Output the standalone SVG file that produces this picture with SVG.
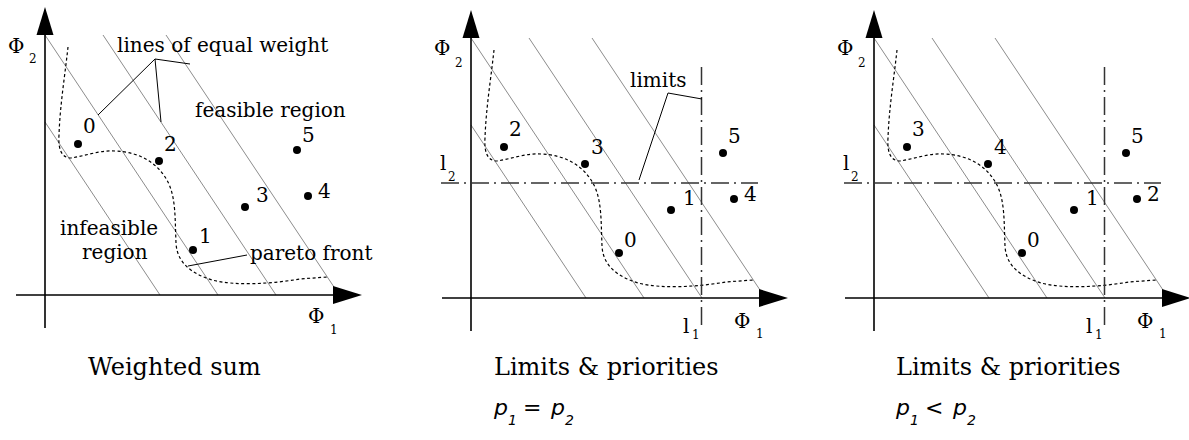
<svg xmlns="http://www.w3.org/2000/svg" width="1189" height="440" viewBox="0 0 1189 440">
<style>
.ax{stroke:#000;stroke-width:1.6;fill:none}
.arr{fill:#000;stroke:none}
.wl{stroke:#8c8c8c;stroke-width:1;fill:none}
.pf{stroke:#000;stroke-width:1.2;stroke-dasharray:3,2.5;fill:none}
.ld{stroke:#000;stroke-width:1;fill:none}
.lim{stroke:#333;stroke-width:1.5;stroke-dasharray:18,5,2,5;fill:none}
.t{font-family:"DejaVu Serif",serif;font-size:20px;fill:#000}
.s{font-family:"DejaVu Serif",serif;font-size:12px;fill:#000}
.cap{font-family:"DejaVu Serif",serif;font-size:24px;fill:#000}
.p{font-family:"DejaVu Sans",sans-serif;font-style:italic;font-size:22px;fill:#000}
.ps{font-family:"DejaVu Sans",sans-serif;font-style:italic;font-size:14px;fill:#000}
.dot{fill:#000}
</style>
<defs>
<g id="axes">
<line class="ax" x1="45" y1="35" x2="45" y2="328"/>
<polygon class="arr" points="45,7 36.5,35 53.5,35"/>
<line class="ax" x1="16" y1="295" x2="334" y2="295"/>
<polygon class="arr" points="362,295 333,286 333,304"/>
</g>
<g id="wlines">
<line class="wl" x1="45" y1="122" x2="160" y2="295"/>
<line class="wl" x1="45" y1="35" x2="218" y2="295"/>
<line class="wl" x1="103" y1="35" x2="276" y2="295"/>
<line class="wl" x1="166" y1="35" x2="338" y2="293"/>
</g>
<path id="front" class="pf" d="M68,47 C65,75 60,105 59,135 C58,150 62,158 71,158 C85,156 100,150 115,151 C140,152 158,163 168,182 C176,198 175,220 176,243 C177,262 190,273 212,280 C235,286 270,284 300,279 L327,277"/>
</defs>

<g id="panel1">
<use href="#wlines"/>
<use href="#front"/>
<use href="#axes"/>
<text class="t" x="8" y="53">Φ</text><text class="s" x="29" y="63">2</text>
<text class="t" x="308" y="323">Φ</text><text class="s" x="330" y="334">1</text>
<g id="p1-connectors">
<polyline class="ld" points="98,115 155,59 190,64"/>
<line class="ld" x1="155" y1="59" x2="161" y2="122"/>
<line class="ld" x1="188" y1="266" x2="247" y2="255"/>
</g>
<text class="t" x="117" y="52">lines of equal weight</text>
<text class="t" x="195" y="117">feasible region</text>
<text class="t" x="60" y="235">infeasible</text>
<text class="t" x="82" y="259">region</text>
<text class="t" x="250" y="260">pareto front</text>
<g id="p1-points">
<circle class="dot" cx="78" cy="144" r="4"/><text class="t" x="83" y="133">0</text>
<circle class="dot" cx="159" cy="161" r="4"/><text class="t" x="164" y="151">2</text>
<circle class="dot" cx="297" cy="150" r="4"/><text class="t" x="302" y="142">5</text>
<circle class="dot" cx="245" cy="207" r="4"/><text class="t" x="256" y="202">3</text>
<circle class="dot" cx="308" cy="196" r="4"/><text class="t" x="318" y="198">4</text>
<circle class="dot" cx="193" cy="250" r="4"/><text class="t" x="199" y="243">1</text>
</g>
</g>

<g id="panel2" transform="translate(426,3)">
<use href="#wlines"/>
<use href="#front"/>
<use href="#axes"/>
<line class="lim" x1="15" y1="180" x2="332" y2="180"/>
<line class="lim" x1="275.5" y1="64" x2="275.5" y2="324"/>
<text class="t" x="8" y="52">Φ</text><text class="s" x="29" y="64">2</text>
<text class="t" x="308" y="325">Φ</text><text class="s" x="330" y="335">1</text>
<text class="t" x="14" y="167">l</text><text class="s" x="22" y="178">2</text>
<text class="t" x="257" y="330">l</text><text class="s" x="266" y="336">1</text>
<g id="p2-connectors">
<polyline class="ld" points="213,177 242,90 276,96"/>
</g>
<text class="t" x="204" y="84">limits</text>
<g id="p2-points">
<circle class="dot" cx="78" cy="144" r="4"/><text class="t" x="83" y="133">2</text>
<circle class="dot" cx="159" cy="161" r="4"/><text class="t" x="165" y="151">3</text>
<circle class="dot" cx="297" cy="150" r="4"/><text class="t" x="302" y="140">5</text>
<circle class="dot" cx="245" cy="207" r="4"/><text class="t" x="257" y="202">1</text>
<circle class="dot" cx="308" cy="196" r="4"/><text class="t" x="318" y="198">4</text>
<circle class="dot" cx="193" cy="250" r="4"/><text class="t" x="198" y="244">0</text>
</g>
</g>

<g id="panel3" transform="translate(829,3)">
<use href="#wlines"/>
<use href="#front"/>
<use href="#axes"/>
<line class="lim" x1="15" y1="180" x2="332" y2="180"/>
<line class="lim" x1="275.5" y1="64" x2="275.5" y2="324"/>
<text class="t" x="8" y="52">Φ</text><text class="s" x="29" y="64">2</text>
<text class="t" x="308" y="325">Φ</text><text class="s" x="330" y="335">1</text>
<text class="t" x="14" y="167">l</text><text class="s" x="22" y="178">2</text>
<text class="t" x="257" y="330">l</text><text class="s" x="266" y="336">1</text>
<g id="p3-points">
<circle class="dot" cx="78" cy="144" r="4"/><text class="t" x="83" y="133">3</text>
<circle class="dot" cx="159" cy="161" r="4"/><text class="t" x="165" y="151">4</text>
<circle class="dot" cx="297" cy="150" r="4"/><text class="t" x="302" y="140">5</text>
<circle class="dot" cx="245" cy="207" r="4"/><text class="t" x="257" y="202">1</text>
<circle class="dot" cx="308" cy="196" r="4"/><text class="t" x="318" y="198">2</text>
<circle class="dot" cx="193" cy="250" r="4"/><text class="t" x="198" y="244">0</text>
</g>
</g>

<g id="captions">
<text class="cap" x="88" y="375">Weighted sum</text>
<text class="cap" x="494" y="375">Limits &amp; priorities</text>
<text class="cap" x="896" y="375">Limits &amp; priorities</text>
<text class="p" x="494" y="415">p</text><text class="ps" x="508" y="425">1</text>
<text class="p" x="523" y="415">=</text>
<text class="p" x="551" y="415">p</text><text class="ps" x="565" y="425">2</text>
<text class="p" x="896" y="415">p</text><text class="ps" x="910" y="425">1</text>
<text class="p" x="925" y="415">&lt;</text>
<text class="p" x="953" y="415">p</text><text class="ps" x="967" y="425">2</text>
</g>
</svg>
